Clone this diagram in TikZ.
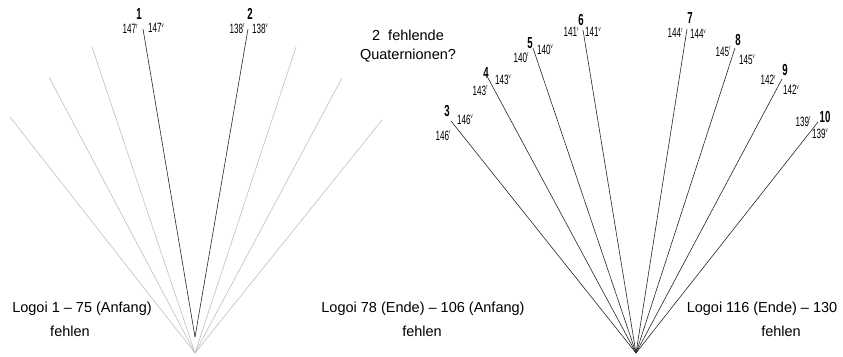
\documentclass[tikz,border=0pt]{standalone}
\usepackage{fontspec}
\setmainfont{Liberation Sans}
\newfontfamily\narrowface[FakeStretch=0.6]{Liberation Sans}
% folio number with a small raised recto/verso mark
\newcommand\folio[2]{#1\raisebox{0.42em}{\fontsize{7}{7}\selectfont #2}}
\begin{document}
\begin{tikzpicture}[x=1pt,y=-1pt,
  lostleaf/.style={draw=black!25, line width=0.6pt},
  leaf/.style={draw=black!85, line width=0.6pt},
  folnum/.style={font=\narrowface\fontsize{13.5}{14}\selectfont, inner sep=0pt},
  quirenum/.style={font=\narrowface\bfseries\fontsize{16}{16}\selectfont, inner sep=0pt},
  note/.style={font=\fontsize{14.5}{17}\selectfont, inner sep=0pt, align=center}]
\useasboundingbox (0,0) rectangle (843,356);

% ---- first quire: missing leaves (grey) and the surviving bifolium (black)
\coordinate (apexL) at (195,353);
\coordinate (apexLb) at (195,337);
\foreach \x/\y [count=\i] in {10/117, 49/77, 92/47, 296/47, 342/78, 382/120}{
  \coordinate (g\i) at (\x,\y);
  \draw[lostleaf] (apexL) -- (g\i);
}
\coordinate (t1) at (143,29);
\coordinate (t2) at (248,29);
\draw[leaf] (apexLb) -- (t1);
\draw[leaf] (apexLb) -- (t2);

\node[quirenum] (n1) at (139,14) {1};
\node[folnum] (r1) at (130,29) {\folio{147}{r}};
\node[folnum] (v1) at (156,28) {\folio{147}{v}};
\node[quirenum] (n2) at (250,14) {2};
\node[folnum] (r2) at (237,29) {\folio{138}{r}};
\node[folnum] (v2) at (260,29) {\folio{138}{v}};

% ---- second quire: eight leaves
\coordinate (apexR) at (636,353);
\foreach \x/\y [count=\i from 3] in {451/121, 488/78, 533/48, 583/30, 687/29, 735/48, 782/79, 818/122}{
  \coordinate (t\i) at (\x,\y);
  \draw[leaf] (apexR) -- (t\i);
}

\node[quirenum] (n3) at (447,111) {3};
\node[folnum] (v3) at (465,120) {\folio{146}{v}};
\node[folnum] (r3) at (443,136) {\folio{146}{r}};

\node[quirenum] (n4) at (486,73) {4};
\node[folnum] (v4) at (503,80) {\folio{143}{v}};
\node[folnum] (r4) at (480,91) {\folio{143}{r}};

\node[quirenum] (n5) at (530,43) {5};
\node[folnum] (v5) at (545,50) {\folio{140}{v}};
\node[folnum] (r5) at (521,58) {\folio{140}{r}};

\node[quirenum] (n6) at (581,20) {6};
\node[folnum] (r6) at (571,32) {\folio{141}{r}};
\node[folnum] (v6) at (593,32) {\folio{141}{v}};

\node[quirenum] (n7) at (690,18) {7};
\node[folnum] (r7) at (675,33) {\folio{144}{r}};
\node[folnum] (v7) at (698,34) {\folio{144}{v}};

\node[quirenum] (n8) at (738,40) {8};
\node[folnum] (r8) at (723,52) {\folio{145}{r}};
\node[folnum] (v8) at (747,60) {\folio{145}{v}};

\node[quirenum] (n9) at (785,70) {9};
\node[folnum] (r9) at (768,80) {\folio{142}{r}};
\node[folnum] (v9) at (791,90) {\folio{142}{v}};

\node[quirenum] (n10) at (825,117) {10};
\node[folnum] (r10) at (803,122) {\folio{139}{r}};
\node[folnum] (v10) at (820,134) {\folio{139}{v}};

% ---- notes
\node[note] (gap) at (408,35) {2\ \ fehlende};
\node[note] (gapb) at (408,56) {Quaternionen?};

\node[note] (lostA) at (82,309) {Logoi 1 – 75 (Anfang)};
\node[note] (lostAb) at (70,331) {fehlen};
\node[note] (lostB) at (423,309) {Logoi 78 (Ende) – 106 (Anfang)};
\node[note] (lostBb) at (422,331) {fehlen};
\node[note] (lostC) at (762,309) {Logoi 116 (Ende) – 130};
\node[note] (lostCb) at (781,331) {fehlen};
\end{tikzpicture}
\end{document}
